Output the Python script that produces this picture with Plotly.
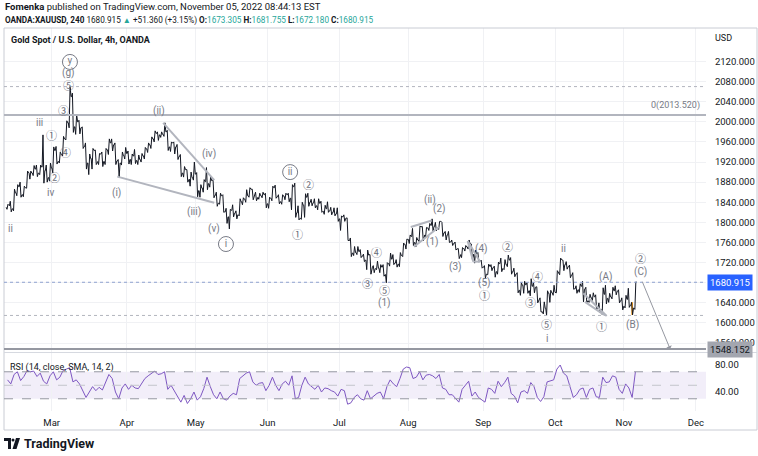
import pandas as pd
import plotly.graph_objects as go

W, H = 758, 456

# ---------------- data (daily bars) ----------------
first_day = "2022-02-09"
last_day = "2022-11-04"

high_feb = [1836, 1842, 1866, 1875, 1880, 1872, 1902, 1902, 1913, 1914, 1914, 1974, 1914, 1918]
low_feb = [1826, 1821, 1823, 1853, 1850, 1851, 1868, 1886, 1893, 1891, 1895, 1878, 1880, 1882]
close_feb = [1833, 1827, 1859, 1871, 1855, 1869, 1898, 1898, 1906, 1898, 1910, 1903, 1889, 1908]

high_mar = [1950, 1951, 1940, 1971, 2002, 2070, 2057, 2015, 2003, 1990, 1958, 1936, 1947, 1944, 1937, 1940, 1947, 1966, 1966, 1958, 1925, 1940, 1949]
low_mar = [1898, 1916, 1918, 1932, 1964, 1988, 1979, 1975, 1976, 1947, 1906, 1895, 1906, 1915, 1915, 1911, 1915, 1935, 1942, 1915, 1890, 1914, 1926]
close_mar = [1943, 1921, 1935, 1966, 1998, 2050, 1990, 2000, 1988, 1951, 1918, 1927, 1943, 1921, 1936, 1921, 1944, 1958, 1954, 1922, 1918, 1933, 1937]

high_apr = [1942, 1936, 1945, 1934, 1937, 1949, 1958, 1970, 1982, 1980, 1980, 1998, 1983, 1960, 1960, 1955, 1935, 1911, 1905, 1900, 1920]
low_apr = [1916, 1915, 1917, 1915, 1920, 1926, 1939, 1947, 1960, 1963, 1969, 1971, 1943, 1941, 1936, 1925, 1891, 1890, 1880, 1872, 1884]
close_apr = [1925, 1932, 1923, 1925, 1932, 1946, 1954, 1966, 1977, 1974, 1975, 1980, 1950, 1958, 1950, 1931, 1898, 1905, 1886, 1889, 1896]

high_may = [1899, 1875, 1885, 1909, 1892, 1885, 1860, 1858, 1855, 1828, 1826, 1835, 1823, 1847, 1849, 1865, 1869, 1866, 1860, 1858, 1860, 1858]
low_may = [1851, 1850, 1860, 1865, 1870, 1849, 1832, 1836, 1820, 1798, 1787, 1811, 1807, 1813, 1835, 1840, 1850, 1845, 1843, 1846, 1849, 1829]
close_may = [1863, 1868, 1881, 1877, 1883, 1854, 1838, 1853, 1821, 1811, 1824, 1818, 1815, 1841, 1846, 1853, 1866, 1853, 1850, 1853, 1855, 1837]

high_jun = [1850, 1872, 1874, 1855, 1855, 1858, 1858, 1875, 1878, 1833, 1840, 1857, 1858, 1846, 1847, 1847, 1842, 1834, 1841, 1830, 1829, 1829]
low_jun = [1828, 1843, 1848, 1837, 1836, 1845, 1841, 1825, 1810, 1805, 1806, 1810, 1832, 1833, 1829, 1825, 1820, 1816, 1820, 1815, 1813, 1802]
close_jun = [1848, 1869, 1851, 1841, 1852, 1855, 1848, 1871, 1819, 1808, 1834, 1850, 1840, 1839, 1833, 1838, 1822, 1827, 1823, 1820, 1817, 1807]

high_jul = [1813, 1815, 1809, 1769, 1752, 1752, 1746, 1737, 1745, 1736, 1714, 1723, 1716, 1716, 1720, 1739, 1736, 1726, 1740, 1759, 1767]
low_jul = [1784, 1802, 1764, 1732, 1734, 1736, 1730, 1722, 1706, 1697, 1700, 1706, 1700, 1693, 1680, 1713, 1716, 1711, 1712, 1732, 1747]
close_jul = [1811, 1808, 1764, 1739, 1740, 1742, 1733, 1725, 1735, 1711, 1708, 1709, 1711, 1696, 1718, 1727, 1719, 1717, 1734, 1756, 1766]

high_aug = [1775, 1788, 1770, 1793, 1792, 1790, 1798, 1807, 1800, 1802, 1800, 1782, 1782, 1765, 1761, 1748, 1750, 1754, 1765, 1757, 1745, 1740, 1725]
low_aug = [1758, 1754, 1751, 1762, 1763, 1771, 1784, 1782, 1783, 1786, 1772, 1765, 1760, 1754, 1745, 1728, 1730, 1743, 1747, 1727, 1719, 1721, 1709]
close_aug = [1772, 1760, 1765, 1791, 1775, 1789, 1794, 1792, 1789, 1802, 1779, 1775, 1761, 1758, 1747, 1736, 1748, 1751, 1758, 1737, 1738, 1723, 1711]

high_sep = [1714, 1717, 1716, 1713, 1721, 1729, 1726, 1735, 1730, 1709, 1700, 1680, 1683, 1680, 1688, 1680, 1672, 1650, 1642, 1664, 1665, 1675]
low_sep = [1689, 1696, 1704, 1691, 1697, 1702, 1706, 1712, 1697, 1692, 1660, 1655, 1659, 1659, 1654, 1660, 1640, 1622, 1618, 1615, 1641, 1655]
close_sep = [1697, 1712, 1710, 1702, 1718, 1708, 1716, 1725, 1702, 1697, 1665, 1675, 1676, 1664, 1673, 1671, 1644, 1622, 1629, 1659, 1660, 1661]

high_oct = [1704, 1729, 1725, 1722, 1715, 1700, 1674, 1678, 1683, 1671, 1657, 1660, 1656, 1640, 1670, 1675, 1659, 1671, 1674, 1666, 1650]
low_oct = [1660, 1696, 1704, 1707, 1690, 1667, 1659, 1661, 1642, 1640, 1641, 1645, 1627, 1621, 1617, 1638, 1641, 1648, 1656, 1640, 1626]
close_oct = [1699, 1725, 1716, 1712, 1695, 1668, 1666, 1673, 1667, 1644, 1650, 1652, 1629, 1627, 1657, 1649, 1652, 1664, 1663, 1644, 1633]

high_nov = [1655, 1669, 1641, 1681.755]
low_nov = [1630, 1631, 1616, 1627]
close_nov = [1647, 1635, 1629.555, 1680.915]

rsi_feb = [58, 52, 66, 70, 57, 63, 72, 70, 71, 63, 68, 56, 52, 64]
rsi_mar = [70, 58, 62, 72, 74, 76, 55, 58, 52, 42, 32, 40, 48, 42, 47, 43, 55, 66, 60, 40, 30, 46, 52]
rsi_apr = [44, 50, 46, 45, 52, 60, 64, 68, 71, 66, 67, 70, 44, 50, 42, 34, 25, 35, 23, 30, 40]
rsi_may = [28, 33, 45, 62, 48, 36, 30, 40, 30, 28, 34, 38, 36, 60, 64, 68, 70, 55, 50, 53, 54, 42]
rsi_jun = [50, 62, 50, 42, 52, 56, 50, 64, 30, 32, 50, 62, 52, 48, 44, 50, 40, 46, 45, 42, 40, 34]
rsi_jul = [44, 42, 22, 24, 32, 36, 30, 28, 42, 30, 34, 38, 40, 30, 48, 58, 52, 48, 60, 74, 77]
rsi_aug = [76, 60, 62, 70, 58, 65, 66, 64, 60, 66, 46, 44, 36, 36, 30, 25, 44, 50, 56, 34, 40, 32, 28]
rsi_sep = [25, 46, 44, 38, 56, 48, 54, 62, 38, 34, 24, 40, 42, 38, 54, 48, 32, 26, 33, 55, 56, 58]
rsi_oct = [74, 80, 68, 64, 48, 32, 36, 44, 46, 32, 44, 46, 33, 32, 62, 54, 55, 64, 62, 44, 38]
rsi_nov = [52, 46, 32, 70]

month_ticks = ["2022-03-01", "2022-04-01", "2022-05-02", "2022-06-01", "2022-07-01",
               "2022-08-01", "2022-09-01", "2022-10-03", "2022-11-01", "2022-12-01"]
month_labels = ["Mar", "Apr", "May", "Jun", "Jul", "Aug", "Sep", "Oct", "Nov", "Dec"]
price_ticks = list(range(1560, 2121, 40))
hidden_price_ticks = [1680]          # covered by the last-price badge
rsi_ticks = [40, 80]

fib_level = 2013.52
target_level = 1548.152

high = high_feb + high_mar + high_apr + high_may + high_jun + high_jul + high_aug + high_sep + high_oct + high_nov
low = low_feb + low_mar + low_apr + low_may + low_jun + low_jul + low_aug + low_sep + low_oct + low_nov
close = close_feb + close_mar + close_apr + close_may + close_jun + close_jul + close_aug + close_sep + close_oct + close_nov
rsi = rsi_feb + rsi_mar + rsi_apr + rsi_may + rsi_jun + rsi_jul + rsi_aug + rsi_sep + rsi_oct + rsi_nov
openp = [1830] + close[:-1]

days = pd.bdate_range(first_day, last_day)
assert len(days) == len(close) == len(high) == len(low) == len(rsi), (len(days), len(close), len(high), len(low), len(rsi))
x_mid = days + pd.Timedelta(hours=12)

# price path: each daily bar traced open -> extreme -> extreme -> close
px_t, px_v = [], []
for d, o, h, l, c in zip(days, openp, high, low, close):
    first, second = (l, h) if c >= o else (h, l)
    for hr, v in ((2, o), (8, first), (15, second), (22, c)):
        px_t.append(d + pd.Timedelta(hours=hr))
        px_v.append(v)

# wave labels: (text, time, price)
wave_labels = [
    ("ii", "2022-02-10 06:00", 1787), ("iii", "2022-02-23 03:00", 1998), ("iv", "2022-02-28 12:00", 1860),
    ("①", "2022-03-01 02:00", 1974), ("②", "2022-03-02 00:00", 1890), ("③", "2022-03-04 11:00", 2023),
    ("④", "2022-03-07 02:00", 1940), ("⑤", "2022-03-08 07:00", 2073), ("(g)", "2022-03-08 07:00", 2097),
    ("(i)", "2022-03-28 16:00", 1858), ("(ii)", "2022-04-14 19:00", 2021), ("(iii)", "2022-04-29 13:00", 1821),
    ("(iv)", "2022-05-06 02:00", 1936), ("(v)", "2022-05-09 14:00", 1787),
    ("②", "2022-06-17 10:00", 1876), ("①", "2022-06-14 07:00", 1777),
    ("④", "2022-07-18 05:00", 1741), ("③", "2022-07-13 17:00", 1680), ("⑤", "2022-07-20 22:00", 1665),
    ("(1)", "2022-07-20 22:00", 1640),
    ("(ii)", "2022-08-09 17:00", 1845), ("(2)", "2022-08-12 17:00", 1827), ("(1)", "2022-08-10 14:00", 1761),
    ("(3)", "2022-08-19 14:00", 1711), ("(4)", "2022-08-31 14:00", 1747), ("(5)", "2022-09-01 12:00", 1680),
    ("①", "2022-09-01 12:00", 1655), ("②", "2022-09-12 12:00", 1753), ("④", "2022-09-23 10:00", 1693),
    ("③", "2022-09-21 07:00", 1642), ("⑤", "2022-09-28 05:00", 1598), ("i", "2022-09-28 12:00", 1570),
    ("ii", "2022-10-05 10:00", 1749), ("(A)", "2022-10-24 05:00", 1691), ("①", "2022-10-21 00:00", 1594),
    ("(B)", "2022-11-03 12:00", 1596), ("②", "2022-11-07 22:00", 1729), ("(C)", "2022-11-07 22:00", 1702),
]
circled_labels = [("y", "2022-03-08 14:00", 2119), ("i", "2022-05-13 07:00", 1757), ("ii", "2022-06-09 22:00", 1900)]

# trend lines drawn on the chart: (t0, p0, t1, p1)
trend_lines = [
    ("2022-04-18 02:00", 1998, "2022-05-09 17:00", 1884),
    ("2022-03-29 01:30", 1891, "2022-05-09 17:00", 1839),
    ("2022-08-01 19:00", 1791, "2022-08-10 05:00", 1803.6),
    ("2022-08-02 19:00", 1751.7, "2022-08-12 10:00", 1791),
    ("2022-08-25 05:00", 1763, "2022-08-30 23:00", 1722),
    ("2022-08-25 05:00", 1763, "2022-08-26 22:00", 1722),
    ("2022-08-26 22:00", 1722, "2022-08-30 23:00", 1722),
    ("2022-10-13 14:00", 1659, "2022-10-24 17:00", 1614),
    ("2022-10-14 02:00", 1642, "2022-10-21 22:00", 1616),
]
arrow_from = ("2022-11-08 10:00", 1685)
arrow_to = ("2022-11-21 03:00", target_level)


def PX(px):
    return px / W


def PY(py):
    return 1 - py / H


GRAY = "#787b86"
TXT = "#131722"
FONT = "Roboto, Liberation Sans, DejaVu Sans, sans-serif"
CIRC_FONT = "Noto Sans CJK JP, DejaVu Sans, sans-serif"
CIRCLED = set("①②③④⑤")

fig = go.Figure()
fig.add_trace(go.Scatter(
    x=px_t, y=px_v, mode="lines", line=dict(color="#131722", width=1),
    xaxis="x", yaxis="y", hoverinfo="skip", showlegend=False,
))
# highlighted bar at (B)
fig.add_trace(go.Ohlc(
    x=x_mid[-2:-1], open=openp[-2:-1], high=high[-2:-1], low=low[-2:-1], close=close[-2:-1],
    increasing=dict(line=dict(color="#ff9800", width=1.5)),
    decreasing=dict(line=dict(color="#ff9800", width=1.5)),
    tickwidth=0.1, xaxis="x", yaxis="y", hoverinfo="skip", showlegend=False,
))
fig.add_trace(go.Scatter(
    x=x_mid, y=rsi, mode="lines", line=dict(color="#7e57c2", width=1),
    xaxis="x2", yaxis="y2", hoverinfo="skip", showlegend=False,
))
fig.add_trace(go.Scatter(
    x=[c[1] for c in circled_labels], y=[c[2] for c in circled_labels],
    mode="markers+text", text=[c[0] for c in circled_labels], textposition="middle center",
    textfont=dict(size=10, color=GRAY, family=FONT),
    marker=dict(symbol="circle-open", size=15, color=GRAY, line=dict(width=1, color=GRAY)),
    xaxis="x", yaxis="y", hoverinfo="skip", showlegend=False,
))

shapes = []
# outer frame & pane separator
shapes.append(dict(type="rect", xref="paper", yref="paper", x0=PX(4), x1=PX(757), y0=PY(430), y1=PY(28),
                   line=dict(color="#c9ccd4", width=1), fillcolor="rgba(0,0,0,0)", layer="above"))
shapes.append(dict(type="line", xref="paper", yref="paper", x0=PX(4), x1=PX(757), y0=PY(352.5), y1=PY(352.5),
                   line=dict(color="#d6d9e0", width=1)))
# horizontal levels
shapes.append(dict(type="line", xref="x domain", yref="y", x0=0, x1=1, y0=fib_level, y1=fib_level,
                   line=dict(color="#b2b5be", width=2)))
shapes.append(dict(type="line", xref="x domain", yref="y", x0=0, x1=1, y0=max(high), y1=max(high),
                   line=dict(color="#b2b5be", width=1, dash="dot")))
shapes.append(dict(type="line", xref="x domain", yref="y", x0=0, x1=1, y0=close[-1], y1=close[-1],
                   line=dict(color="#8ea2cf", width=1, dash="dot")))
shapes.append(dict(type="line", xref="x domain", yref="y", x0=0, x1=1, y0=min(low), y1=min(low),
                   line=dict(color="#b2b5be", width=1, dash="dot")))
shapes.append(dict(type="line", xref="x domain", yref="y", x0=0, x1=1, y0=target_level, y1=target_level,
                   line=dict(color="#9598a1", width=2)))
for t0, p0, t1, p1 in trend_lines:
    shapes.append(dict(type="line", xref="x", yref="y", x0=t0, y0=p0, x1=t1, y1=p1,
                       line=dict(color="#b2b5be", width=2)))
# RSI band
shapes.append(dict(type="rect", xref="x2 domain", yref="y2", x0=0, x1=1, y0=30, y1=70,
                   fillcolor="rgba(126,87,194,0.10)", line=dict(width=0), layer="below"))
for lvl, col in [(70, "#9598a1"), (50, "#c3c5cc"), (30, "#9598a1")]:
    shapes.append(dict(type="line", xref="x2 domain", yref="y2", x0=0, x1=1, y0=lvl, y1=lvl,
                       line=dict(color=col, width=1, dash="dash")))
# TradingView logo
shapes.append(dict(type="rect", xref="paper", yref="paper", x0=PX(4), x1=PX(11), y0=PY(441), y1=PY(438),
                   fillcolor=TXT, line=dict(width=0)))
shapes.append(dict(type="rect", xref="paper", yref="paper", x0=PX(8), x1=PX(11), y0=PY(449), y1=PY(438),
                   fillcolor=TXT, line=dict(width=0)))
shapes.append(dict(type="circle", xref="paper", yref="paper", x0=PX(11.5), x1=PX(14.5), y0=PY(441.5), y1=PY(438.5),
                   fillcolor=TXT, line=dict(width=0)))
shapes.append(dict(type="path", xref="paper", yref="paper",
                   path=f"M {PX(16)} {PY(438)} L {PX(20)} {PY(438)} L {PX(16.5)} {PY(449)} L {PX(12.5)} {PY(449)} Z",
                   fillcolor=TXT, line=dict(width=0)))

ann = []
for txt, t, p in wave_labels:
    circ = txt in CIRCLED
    ann.append(dict(text=txt, x=t, y=p, xref="x", yref="y", showarrow=False,
                    xanchor="center", yanchor="middle",
                    font=dict(size=11 if circ else 10, color="#6a6d78" if circ else GRAY,
                              family=CIRC_FONT if circ else FONT)))
ann.append(dict(text="0(2013.520)", x=PX(702), y=fib_level, xref="paper", yref="y", xanchor="right",
                yanchor="bottom", yshift=2, showarrow=False, font=dict(size=9, color=GRAY, family=FONT)))
ann.append(dict(text="", x=arrow_to[0], y=arrow_to[1], ax=arrow_from[0], ay=arrow_from[1],
                xref="x", yref="y", axref="x", ayref="y", showarrow=True,
                arrowhead=1, arrowsize=1, arrowwidth=1, arrowcolor="#9598a1"))
# price-scale badges
ann.append(dict(text=f"{close[-1]:.3f}", x=PX(707), y=close[-1], xref="paper", yref="y", xanchor="left",
                yanchor="middle", showarrow=False, bgcolor="#2962ff", borderpad=2,
                font=dict(size=9.5, color="white", family=FONT)))
ann.append(dict(text=f"{target_level:.3f}", x=PX(707), y=target_level, xref="paper", yref="y", xanchor="left",
                yanchor="middle", showarrow=False, bgcolor="#a3a6af", borderpad=2,
                font=dict(size=9.5, color=TXT, family=FONT)))


def paper_text(text, xp, yp, size, color=TXT):
    return dict(text=text, x=PX(xp), y=PY(yp), xref="paper", yref="paper", xanchor="left", yanchor="middle",
                showarrow=False, font=dict(size=size, color=color, family=FONT))


G = "#26a69a"
ann.append(paper_text("USD", 713, 38, 9))
ann.append(paper_text("<b>Fomenka</b> published on TradingView.com, November 05, 2022 08:44:13 EST", 3, 7, 9.5))
ann.append(paper_text(
    f"<b>OANDA:XAUUSD, 240</b> 1680.915 <span style='color:{G}'>▲</span> +51.360 (+3.15%) "
    f"<b>O:</b><span style='color:{G}'>1673.305</span> <b>H:</b><span style='color:{G}'>1681.755</span> "
    f"<b>L:</b><span style='color:{G}'>1672.180</span> <b>C:</b><span style='color:{G}'>1680.915</span>",
    3, 20, 8.2))
ann.append(paper_text("<b>Gold Spot / U.S. Dollar, 4h, OANDA</b>", 9, 40, 9))
ann.append(paper_text("RSI (14, close, SMA, 14, 2)", 8, 367, 9))
ann.append(paper_text("<b>TradingView</b>", 22, 443.5, 12.5))

xrange = ["2022-02-08 10:00", "2022-12-06 02:00"]
rb = [dict(bounds=["sat", "mon"])]
grid = "#f0f1f4"

fig.update_layout(
    width=W, height=H, margin=dict(l=0, r=0, t=0, b=0), autosize=False,
    paper_bgcolor="white", plot_bgcolor="white", showlegend=False,
    font=dict(family=FONT, color=TXT),
    xaxis=dict(domain=[PX(4), PX(706)], anchor="y", type="date", range=xrange, rangebreaks=rb,
               tickvals=month_ticks, showticklabels=False, showgrid=True, gridcolor=grid,
               zeroline=False, showline=False, rangeslider=dict(visible=False), fixedrange=True),
    xaxis2=dict(domain=[PX(4), PX(706)], anchor="y2", type="date", range=xrange, rangebreaks=rb, matches="x",
                tickvals=month_ticks, ticktext=month_labels, showgrid=True, gridcolor=grid,
                ticks="outside", ticklen=3, tickcolor="rgba(0,0,0,0)",
                tickfont=dict(size=9.5, color=TXT, family=FONT), zeroline=False, showline=False),
    yaxis=dict(domain=[PY(352), PY(28)], anchor="x", side="right", range=[1542.3, 2186.5],
               tickvals=price_ticks,
               ticktext=["" if v in hidden_price_ticks else f"{v:.3f}" for v in price_ticks],
               showgrid=True, gridcolor=grid, zeroline=False, showline=False,
               ticks="outside", ticklen=6, tickcolor="rgba(0,0,0,0)",
               tickfont=dict(size=9.5, color=TXT, family=FONT)),
    yaxis2=dict(domain=[PY(411), PY(353)], anchor="x2", side="right", range=[11.9, 97.8],
                tickvals=rsi_ticks, ticktext=[f"{v:.2f}" for v in rsi_ticks],
                showgrid=False, zeroline=False, showline=False,
                ticks="outside", ticklen=6, tickcolor="rgba(0,0,0,0)",
                tickfont=dict(size=9.5, color=TXT, family=FONT)),
    shapes=shapes, annotations=ann,
)

fig.write_html("out.html", config={"displayModeBar": False},
               post_script="document.body.style.margin='0';document.body.style.overflow='hidden';")
